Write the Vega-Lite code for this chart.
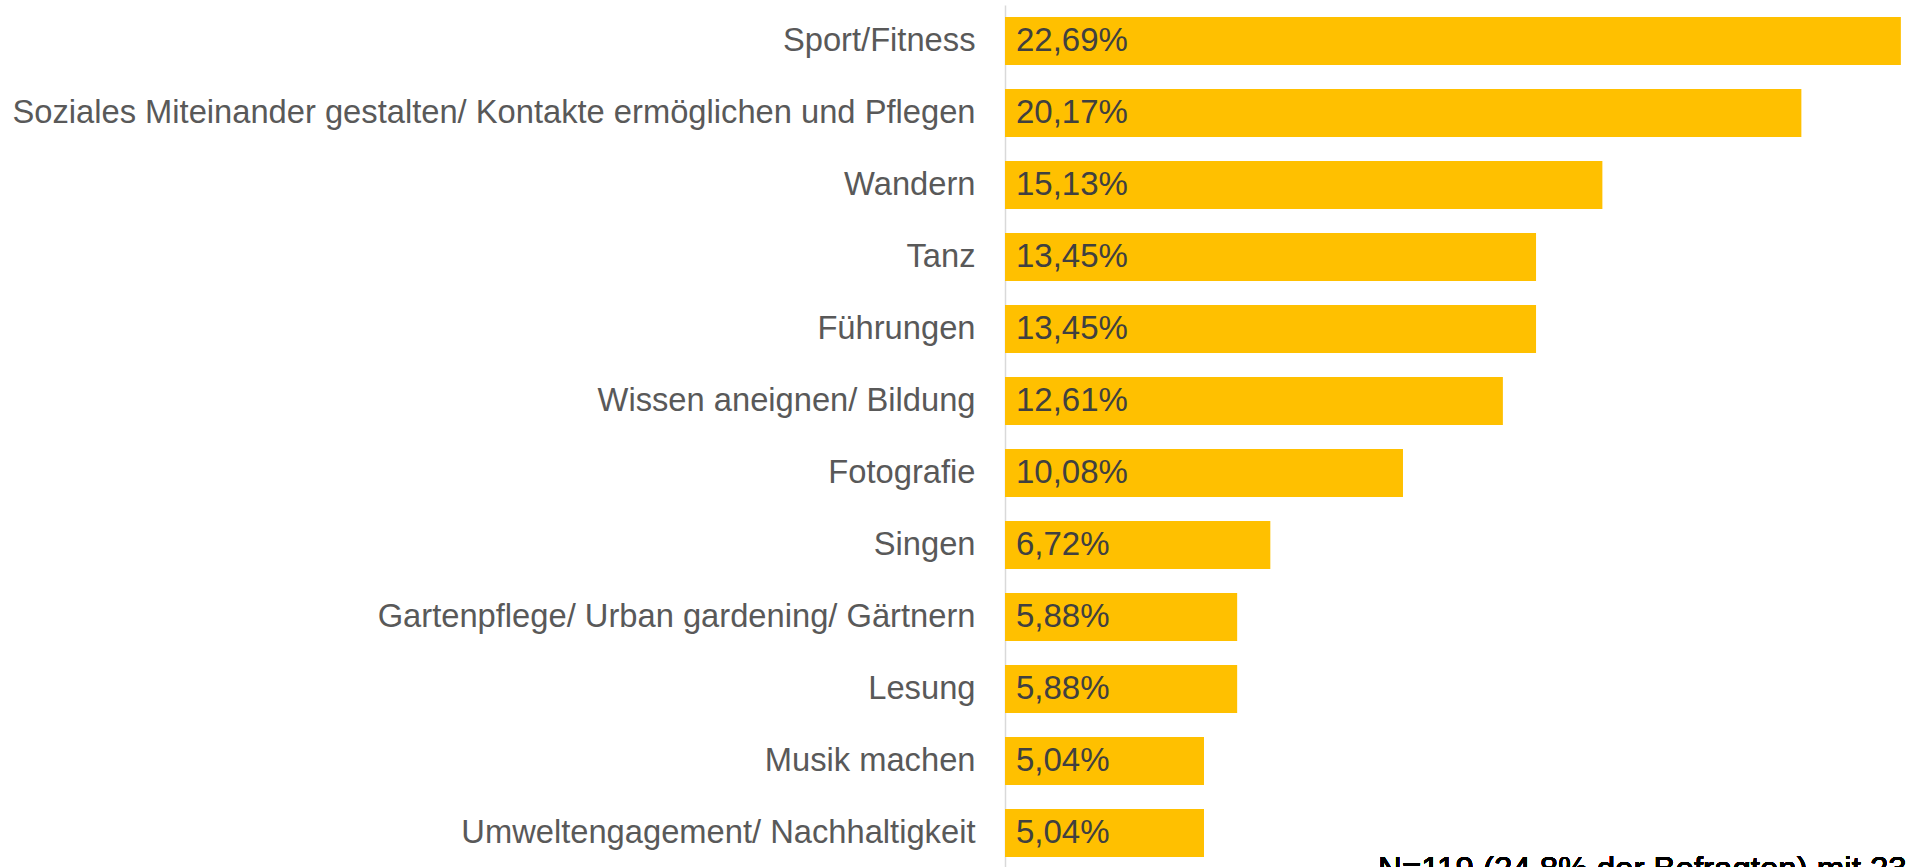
{
  "$schema": "https://vega.github.io/schema/vega-lite/v6.json",
  "autosize": "none",
  "width": 901,
  "height": 864,
  "padding": {"left": 1005, "top": 5, "right": 0, "bottom": 0},
  "background": "white",
  "config": {
    "view": {"stroke": null},
    "font": "Liberation Sans",
    "locale": {"number": {"decimal": ",", "thousands": ".", "grouping": [3], "currency": ["", " €"]}}
  },
  "data": {"values": [
    {"category": "Sport/Fitness", "share": 0.2269},
    {"category": "Soziales Miteinander gestalten/ Kontakte ermöglichen und Pflegen", "share": 0.2017},
    {"category": "Wandern", "share": 0.1513},
    {"category": "Tanz", "share": 0.1345},
    {"category": "Führungen", "share": 0.1345},
    {"category": "Wissen aneignen/ Bildung", "share": 0.1261},
    {"category": "Fotografie", "share": 0.1008},
    {"category": "Singen", "share": 0.0672},
    {"category": "Gartenpflege/ Urban gardening/ Gärtnern", "share": 0.0588},
    {"category": "Lesung", "share": 0.0588},
    {"category": "Musik machen", "share": 0.0504},
    {"category": "Umweltengagement/ Nachhaltigkeit", "share": 0.0504}
  ]},
  "encoding": {
    "y": {
      "field": "category", "type": "nominal", "sort": null,
      "scale": {"paddingInner": 0.3333, "paddingOuter": 0.1667},
      "axis": {
        "title": null, "ticks": false, "labelFontSize": 32.7, "labelColor": "#595959",
        "labelPadding": 30, "labelLimit": 1000, "domainColor": "#d9d9d9", "domainWidth": 1.5,
        "labelFont": "Liberation Sans"
      }
    },
    "x": {
      "field": "share", "type": "quantitative",
      "scale": {"domain": [0, 0.2282], "nice": false, "zero": true},
      "axis": null
    }
  },
  "layer": [
    {"mark": {"type": "bar", "color": "#ffc000"}},
    {
      "mark": {"type": "text", "align": "left", "baseline": "middle", "dx": 11, "fontSize": 33, "color": "#404040"},
      "encoding": {
        "x": {"datum": 0, "type": "quantitative"},
        "text": {"field": "share", "type": "quantitative", "format": ".2%"}
      }
    },
    {
      "mark": {"type": "text", "align": "left", "baseline": "alphabetic", "dy": 47, "fontSize": 33, "color": "#000000"},
      "encoding": {
        "x": {"datum": 0.0945, "type": "quantitative"},
        "y": {"datum": "Umweltengagement/ Nachhaltigkeit", "type": "nominal"},
        "text": {"value": "N=119 (24,8% der Befragten) mit 238 Nennungen"}
      }
    }
  ]
}
